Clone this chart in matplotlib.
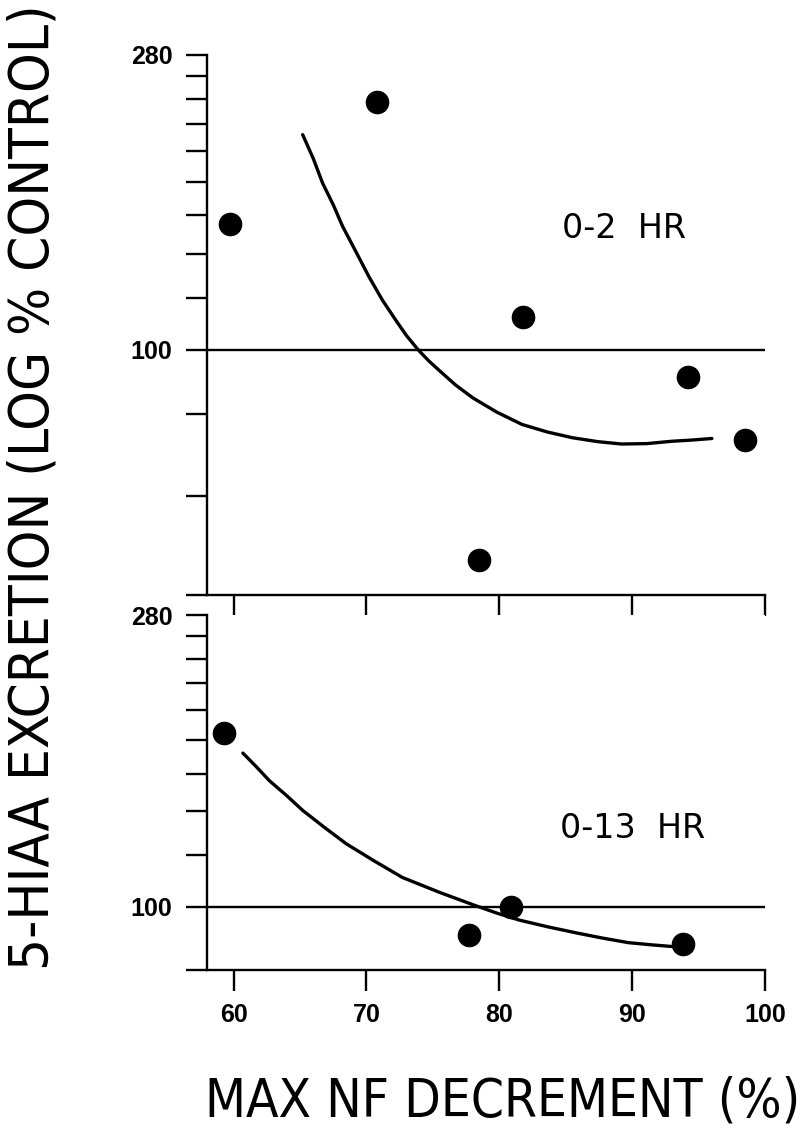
import numpy as np
import matplotlib.pyplot as plt
from matplotlib.ticker import NullLocator

# --- data ---
# 0-2 HR (upper panel)
x_2hr = [59.7, 70.8, 81.8, 94.2, 98.5, 78.5]
y_2hr = [155, 238, 112, 91, 73, 48]
curve_x_2hr = [65.2, 66.0, 66.7, 67.5, 68.2, 69.2, 70.2, 71.2, 72.2, 73.0, 73.9, 74.7, 75.5,
               76.7, 78.0, 79.8, 81.7, 83.6, 85.5, 87.4, 89.2, 91.1, 93.0, 94.5, 96.0]
curve_y_2hr = [212, 195, 179, 166, 154, 141, 129, 119, 111, 105.2, 100, 96.2, 93,
               88.5, 84.6, 80.5, 77.1, 75.1, 73.6, 72.6, 72.0, 72.1, 72.7, 73.0, 73.4]

# 0-13 HR (lower panel)
x_13hr = [59.3, 77.7, 80.9, 93.8]
y_13hr = [184.5, 90.6, 100, 87.6]
curve_x_13hr = [60.7, 61.7, 62.7, 64.0, 65.2, 66.8, 68.5, 70.6, 72.7, 75.5, 78.2,
                79.8, 81.5, 83.7, 86.0, 87.8, 89.7, 91.5, 93.3]
curve_y_13hr = [172, 164, 156, 148, 140.5, 132.5, 124.8, 117.5, 110.9, 105.2, 100.4,
                97.8, 95.4, 93.1, 91.0, 89.5, 88.1, 87.4, 86.8]

x_ticks = [60, 70, 80, 90, 100]
y_ticks_top = [42.5, 60, 80, 100, 120, 140, 160, 180, 200, 220, 240, 260, 280]
y_ticks_bottom = [80, 100, 120, 140, 160, 180, 200, 220, 240, 260, 280]
labelled = {100: '100', 280: '280'}

plt.rcParams['font.family'] = ['Liberation Sans', 'DejaVu Sans']

fig = plt.figure(figsize=(8.08, 11.31), dpi=100)
ax1 = fig.add_axes([0.2562, 0.4739, 0.6906, 0.4775])
ax2 = fig.add_axes([0.2562, 0.1424, 0.6906, 0.3138])


def style(ax, yticks, ylim, show_xlabels):
    ax.set_yscale('log')
    ax.set_xlim(58, 100)
    ax.set_ylim(*ylim)
    ax.set_yticks(yticks, [labelled.get(t, '') for t in yticks])
    ax.yaxis.set_minor_locator(NullLocator())
    ax.set_xticks(x_ticks, [str(t) for t in x_ticks] if show_xlabels else [''] * 5)
    ax.xaxis.set_minor_locator(NullLocator())
    for s in ['top', 'right']:
        ax.spines[s].set_visible(False)
    for s in ['left', 'bottom']:
        ax.spines[s].set_linewidth(1.7)
    ax.tick_params(axis='both', direction='out', length=15, width=1.7)
    ax.tick_params(axis='y', pad=10, labelsize=18)
    ax.tick_params(axis='x', pad=9, labelsize=18)
    for lab in ax.get_yticklabels() + ax.get_xticklabels():
        lab.set_fontweight('bold')
    ax.axhline(100, color='black', lw=1.7, zorder=1)


style(ax1, y_ticks_top, (42.5, 280), False)
style(ax2, y_ticks_bottom, (80, 280), True)

ax1.plot(curve_x_2hr, curve_y_2hr, color='black', lw=2.4, solid_capstyle='round',
         solid_joinstyle='round')
ax1.plot(x_2hr, y_2hr, 'o', color='black', ms=16, clip_on=False, zorder=3)
ax1.text(89.4, 153, '0-2  HR', fontsize=24, ha='center', va='center',
         family=['DejaVu Sans'])

ax2.plot(curve_x_13hr, curve_y_13hr, color='black', lw=2.4, solid_capstyle='round',
         solid_joinstyle='round')
ax2.plot(x_13hr, y_13hr, 'o', color='black', ms=16, clip_on=False, zorder=3)
ax2.text(90.0, 132, '0-13  HR', fontsize=24, ha='center', va='center',
         family=['DejaVu Sans'])

xlab = fig.text(0.622, 0.026, 'MAX NF DECREMENT (%)', fontsize=38, ha='center',
                va='center', family=['DejaVu Sans'], fontstretch='condensed')
ylab = fig.text(0.041, 0.569, '5-HIAA EXCRETION (LOG % CONTROL)', fontsize=42,
                rotation=90, ha='center', va='center', family=['DejaVu Sans'],
                fontstretch='condensed')

# shrink the two big labels so they span the same length as in the original
fig.canvas.draw()
r = fig.canvas.get_renderer()
w = xlab.get_window_extent(r).width
xlab.set_fontsize(xlab.get_fontsize() * 595 / w)
h = ylab.get_window_extent(r).height
ylab.set_fontsize(ylab.get_fontsize() * 965 / h)

fig.savefig('out.png', dpi=100)
